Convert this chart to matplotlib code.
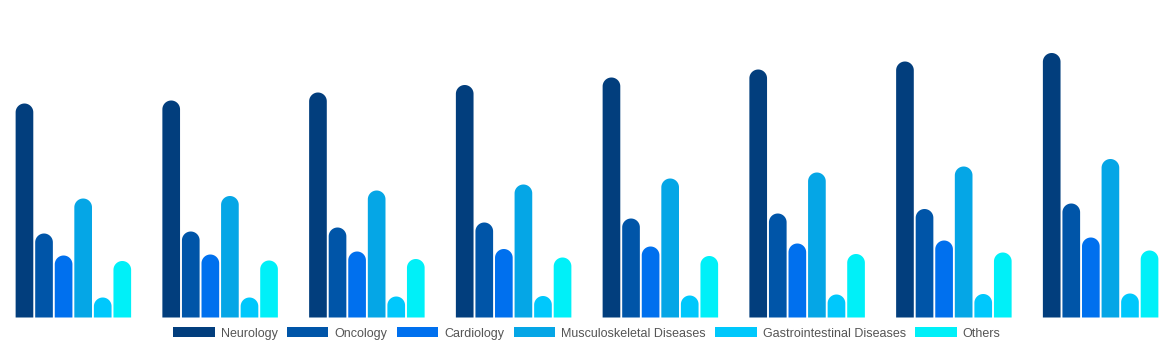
import numpy as np
import matplotlib
matplotlib.use("Agg")
import matplotlib.pyplot as plt
from matplotlib.patches import PathPatch, Patch
from matplotlib.path import Path
from matplotlib.transforms import Affine2D

groups = ["G1", "G2", "G3", "G4", "G5", "G6", "G7", "G8"]
series_names = ["Neurology", "Oncology", "Cardiology", "Musculoskeletal Diseases",
                "Gastrointestinal Diseases", "Others"]
neurology = [214, 217, 225, 232.5, 240, 248, 256, 264.5]
oncology = [84, 86, 90, 95, 99, 104, 108.5, 114]
cardiology = [62, 63, 66, 68.5, 71, 74, 77, 80]
musculoskeletal = [119, 121.5, 127, 133, 139, 145, 151, 158.5]
gastrointestinal = [20, 20, 21, 21.5, 22, 23, 23.5, 24]
others = [56.5, 57, 58.5, 60, 61.5, 63.5, 65, 67]
series_values = [neurology, oncology, cardiology, musculoskeletal, gastrointestinal, others]
colors = ["#023e7d", "#0055a8", "#0070ee", "#05a6e6", "#00c8fc", "#00f0f8"]

plt.rcParams['font.family'] = ['Liberation Sans', 'DejaVu Sans']

W, H = 1174, 350
fig = plt.figure(figsize=(W / 100, H / 100), dpi=100)
bottom_px = 32.5
ax = fig.add_axes([0, bottom_px / H, 1, (H - bottom_px) / H])
ax.set_xlim(-0.5, len(groups) - 0.5)
ax.set_ylim(0, H - bottom_px)
ax.axis('off')

x = np.arange(len(groups))
n = len(series_names)
width = 0.8 / n
fig.canvas.draw()
p0 = ax.transData.transform((0, 0))
p1 = ax.transData.transform((1, 1))
px_x = p1[0] - p0[0]
px_y = p1[1] - p0[1]
aspect = px_x / px_y
gap = 1.9 / px_x  # white gap between adjacent bars, in x data units

theta = np.linspace(0, np.pi, 48)
unit_arc = np.column_stack([np.cos(theta), np.sin(theta)])
for i, (name, vals, col) in enumerate(zip(series_names, series_values, colors)):
    bars = ax.bar(x + (i - (n - 1) / 2) * width, vals, width, color=col, label=name)
    for rect in bars.patches:
        x0, w, h = rect.get_x(), rect.get_width(), rect.get_height()
        rect.remove()
        xa, xb = x0 + gap / 2, x0 + w - gap / 2
        r = (xb - xa) / 2
        ry = r * aspect
        cx, cy = (xa + xb) / 2, h - ry
        cap = Affine2D().scale(r, ry).translate(cx, cy).transform(unit_arc)
        pts = np.vstack([[xb, 0], [xb, cy], cap, [xa, 0]])
        path = Path(np.vstack([pts, pts[:1]]),
                    [Path.MOVETO] + [Path.LINETO] * (len(pts) - 1) + [Path.CLOSEPOLY])
        ax.add_patch(PathPatch(path, facecolor=col, edgecolor='none'))

handles = [Patch(facecolor=c, edgecolor='none') for c in colors]
fig.legend(handles, series_names, loc='center', bbox_to_anchor=(0.5, 16.5 / H),
           ncol=n, frameon=False, fontsize=9, labelcolor='#555555',
           handlelength=3.3, handleheight=0.85, handletextpad=0.5,
           columnspacing=0.75, borderpad=0)

fig.savefig("out.png", dpi=100)
